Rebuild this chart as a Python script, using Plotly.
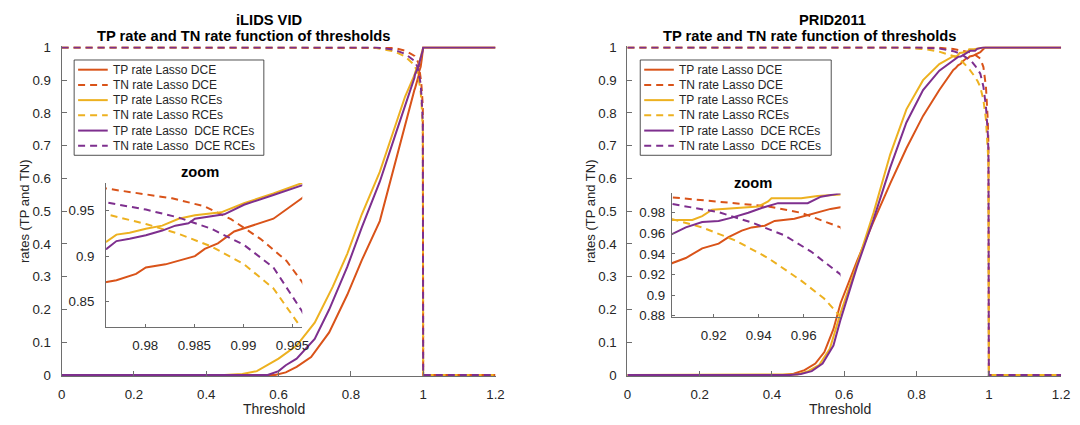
import plotly.graph_objects as go

W, H = 1080, 425

# ---------------- data ----------------
series_names = ["TP rate Lasso DCE", "TN rate Lasso DCE",
                "TP rate Lasso RCEs", "TN rate Lasso RCEs",
                "TP rate Lasso  DCE RCEs", "TN rate Lasso  DCE RCEs"]
series_colors = ["#D95319", "#D95319", "#EDB120", "#EDB120", "#7E2F8E", "#7E2F8E"]
series_dash = ["solid", "dash", "solid", "dash", "solid", "dash"]

# iLIDS VID
ilids_tp_dce_x = [0, 0.59, 0.62, 0.65, 0.69, 0.74, 0.79, 0.83, 0.88, 0.925, 0.95,
                  0.97606, 0.97706, 0.97906, 0.98006, 0.98206, 0.98373, 0.98506, 0.98606,
                  0.9874, 0.98906, 0.9904, 0.99173, 0.99306, 0.99596, 0.9985, 1.0, 1.2]
ilids_tp_dce_y = [0, 0, 0.008, 0.025, 0.055, 0.13, 0.245, 0.35, 0.47, 0.66, 0.77,
                  0.8718, 0.8736, 0.8806, 0.8876, 0.891, 0.8964, 0.90, 0.908,
                  0.914, 0.927, 0.9317, 0.937, 0.941, 0.9634, 0.985, 1.0, 1.0]
ilids_tn_dce_x = [0, 0.88, 0.92, 0.95, 0.97606, 0.9794, 0.98273, 0.98606, 0.98873, 0.99173,
                  0.9944, 0.99596, 0.999, 1.0, 1.2]
ilids_tn_dce_y = [1, 1, 0.998, 0.99, 0.974, 0.9687, 0.9634, 0.9545, 0.9405, 0.919,
                  0.8947, 0.872, 0.82, 0, 0]
ilids_tp_rce_x = [0, 0.45, 0.5, 0.54, 0.6, 0.65, 0.7, 0.75, 0.79, 0.83, 0.88, 0.925, 0.95,
                  0.97606, 0.97706, 0.9784, 0.98006, 0.98173, 0.9834, 0.98506, 0.98773,
                  0.99006, 0.99306, 0.99596, 0.9985, 1.0, 1.2]
ilids_tp_rce_y = [0, 0, 0.003, 0.012, 0.05, 0.09, 0.16, 0.27, 0.37, 0.49, 0.62, 0.77, 0.85,
                  0.9159, 0.9236, 0.9257, 0.930, 0.9334, 0.941, 0.9447, 0.948,
                  0.958, 0.9687, 0.98, 0.993, 1.0, 1.0]
ilids_tn_rce_x = [0, 0.86, 0.92, 0.95, 0.97606, 0.98006, 0.9834, 0.98673, 0.99006, 0.99306,
                  0.99573, 0.999, 1.0, 1.2]
ilids_tn_rce_y = [1, 1, 0.988, 0.972, 0.9458, 0.9352, 0.9245, 0.9106, 0.8911, 0.8647,
                  0.824, 0.75, 0, 0]
ilids_tp_both_x = [0, 0.57, 0.6, 0.62, 0.65, 0.7, 0.74, 0.79, 0.83, 0.88, 0.925, 0.95,
                   0.97606, 0.97706, 0.9784, 0.98006, 0.98173, 0.98306, 0.9844, 0.98506,
                   0.98806, 0.99006, 0.99306, 0.99596, 0.9985, 1.0, 1.2]
ilids_tp_both_y = [0, 0, 0.012, 0.03, 0.05, 0.11, 0.2, 0.33, 0.45, 0.59, 0.74, 0.82,
                   0.908, 0.9165, 0.919, 0.9228, 0.928, 0.9334, 0.936, 0.941,
                   0.9458, 0.9563, 0.967, 0.9775, 0.99, 1.0, 1.0]
ilids_tn_both_x = [0, 0.87, 0.92, 0.95, 0.97606, 0.98006, 0.9834, 0.98673, 0.99006, 0.99306,
                   0.99596, 0.999, 1.0, 1.2]
ilids_tn_both_y = [1, 1, 0.993, 0.98, 0.9588, 0.951, 0.9423, 0.930, 0.9123, 0.8876,
                   0.840, 0.77, 0, 0]

# PRID2011
prid_tp_dce_x = [0, 0.43, 0.46, 0.49, 0.52, 0.545, 0.57, 0.59, 0.635, 0.68, 0.727, 0.772, 0.818, 0.863,
                 0.9017, 0.9076, 0.9149, 0.9222, 0.9266, 0.9325, 0.9369, 0.9427, 0.9471, 0.9559,
                 0.9633, 0.972, 0.9764, 0.985, 0.99, 1.2]
prid_tp_dce_y = [0, 0, 0.004, 0.015, 0.035, 0.07, 0.14, 0.22, 0.347, 0.466, 0.584, 0.692, 0.791, 0.87,
                 0.9312, 0.936, 0.9454, 0.950, 0.9564, 0.9627, 0.9658, 0.9674, 0.9721, 0.9743,
                 0.9784, 0.9838, 0.9853, 0.995, 1.0, 1.0]
prid_tn_dce_x = [0, 0.85, 0.9017, 0.9222, 0.9442, 0.9589, 0.9764, 0.985, 0.992, 0.997, 0.999, 1.0, 1.2]
prid_tn_dce_y = [1, 1, 0.995, 0.991, 0.9862, 0.980, 0.9658, 0.94, 0.88, 0.78, 0.70, 0, 0]
prid_tp_rce_x = [0, 0.44, 0.47, 0.5, 0.53, 0.56, 0.59, 0.635, 0.681, 0.727, 0.772, 0.818, 0.863,
                 0.9017, 0.9105, 0.9149, 0.9193, 0.9295, 0.9398, 0.9442, 0.9457, 0.9589, 0.9662,
                 0.9764, 0.985, 1.2]
prid_tp_rce_y = [0, 0, 0.002, 0.012, 0.03, 0.08, 0.19, 0.337, 0.495, 0.673, 0.811, 0.90, 0.949,
                 0.973, 0.973, 0.9768, 0.983, 0.9847, 0.9862, 0.991, 0.9941, 0.9941, 0.9963,
                 0.9979, 1.0, 1.0]
prid_tn_rce_x = [0, 0.75, 0.82, 0.86, 0.9017, 0.9149, 0.9295, 0.9442, 0.9589, 0.9691, 0.9764,
                 0.985, 0.992, 0.997, 0.999, 1.0, 1.2]
prid_tn_rce_y = [1, 1, 0.995, 0.988, 0.9737, 0.9658, 0.9532, 0.936, 0.914, 0.8966, 0.879,
                 0.84, 0.78, 0.70, 0.65, 0, 0]
prid_tp_both_x = [0, 0.45, 0.48, 0.51, 0.54, 0.57, 0.59, 0.635, 0.681, 0.727, 0.772, 0.818, 0.863,
                  0.9017, 0.9076, 0.9149, 0.9222, 0.9281, 0.9354, 0.9413, 0.9486, 0.9618, 0.9677,
                  0.9764, 0.985, 1.2]
prid_tp_both_y = [0, 0, 0.003, 0.012, 0.035, 0.09, 0.17, 0.33, 0.475, 0.633, 0.771, 0.87, 0.929,
                  0.9595, 0.9658, 0.9711, 0.9721, 0.9753, 0.980, 0.9847, 0.9894, 0.9894, 0.9957,
                  0.9989, 1.0, 1.0]
prid_tn_both_x = [0, 0.8, 0.86, 0.9017, 0.9222, 0.9369, 0.9515, 0.9633, 0.9764, 0.985, 0.992,
                  0.997, 0.999, 1.0, 1.2]
prid_tn_both_y = [1, 1, 0.997, 0.9885, 0.9806, 0.9706, 0.958, 0.9423, 0.920, 0.88, 0.82,
                  0.74, 0.68, 0, 0]

ilids_series = [(ilids_tp_dce_x, ilids_tp_dce_y), (ilids_tn_dce_x, ilids_tn_dce_y),
                (ilids_tp_rce_x, ilids_tp_rce_y), (ilids_tn_rce_x, ilids_tn_rce_y),
                (ilids_tp_both_x, ilids_tp_both_y), (ilids_tn_both_x, ilids_tn_both_y)]
prid_series = [(prid_tp_dce_x, prid_tp_dce_y), (prid_tn_dce_x, prid_tn_dce_y),
               (prid_tp_rce_x, prid_tp_rce_y), (prid_tn_rce_x, prid_tn_rce_y),
               (prid_tp_both_x, prid_tp_both_y), (prid_tn_both_x, prid_tn_both_y)]

main_xticks = [0, 0.2, 0.4, 0.6, 0.8, 1, 1.2]
main_xticklabels = ["0", "0.2", "0.4", "0.6", "0.8", "1", "1.2"]
main_yticks = [0, 0.1, 0.2, 0.3, 0.4, 0.5, 0.6, 0.7, 0.8, 0.9, 1]
main_yticklabels = ["0", "0.1", "0.2", "0.3", "0.4", "0.5", "0.6", "0.7", "0.8", "0.9", "1"]
ilids_zoom_xticks = [0.98, 0.985, 0.99, 0.995]
ilids_zoom_xticklabels = ["0.98", "0.985", "0.99", "0.995"]
ilids_zoom_yticks = [0.85, 0.9, 0.95]
ilids_zoom_yticklabels = ["0.85", "0.9", "0.95"]
prid_zoom_xticks = [0.92, 0.94, 0.96]
prid_zoom_xticklabels = ["0.92", "0.94", "0.96"]
prid_zoom_yticks = [0.88, 0.9, 0.92, 0.94, 0.96, 0.98]
prid_zoom_yticklabels = ["0.88", "0.9", "0.92", "0.94", "0.96", "0.98"]

# ---------------- style / layout ----------------
FONT = "Liberation Sans, Arial, Helvetica, sans-serif"
TXT = "#262626"
AXC = "#6e6e6e"
DASH = "7px,5px"
LW = 2
TICKSZ = 13.3


def px(x):
    return x / W


def py(y):
    return 1 - y / H


fig = go.Figure()


def add_series(series, xa, ya):
    for (sx, sy), col, d, nm in zip(series, series_colors, series_dash, series_names):
        fig.add_trace(go.Scatter(
            x=sx, y=sy, mode="lines", name=nm, showlegend=False, hoverinfo="skip",
            line=dict(color=col, width=LW, dash=(DASH if d == "dash" else "solid")),
            xaxis=xa, yaxis=ya))


add_series(ilids_series, "x", "y")
add_series(prid_series, "x2", "y2")
add_series(ilids_series, "x3", "y3")
add_series(prid_series, "x4", "y4")

# axis geometry (pixels)
main_left = [(58.3, 497.5), (631.0, 1070.0)]
main_y0_px, main_y1_px = 380.7, 42.7  # pixel of y=0, y=1
ypad = 0.003
ppu = (main_y0_px - main_y1_px)
main_dom_y = [py(main_y0_px + ypad * ppu), py(main_y1_px - ypad * ppu)]

base_axis = dict(showline=True, linecolor=AXC, linewidth=1, ticks="inside", tickcolor=AXC,
                 showgrid=False, zeroline=False, mirror=False,
                 tickfont=dict(family=FONT, size=TICKSZ, color=TXT))

lay = dict(
    width=W, height=H, margin=dict(l=0, r=0, t=0, b=0),
    paper_bgcolor="white", plot_bgcolor="rgba(0,0,0,0)", showlegend=False,
    font=dict(family=FONT, color=TXT),
)

for i, (xl, xr) in enumerate(main_left):
    sx = "" if i == 0 else "2"
    lay["xaxis" + sx] = dict(base_axis, domain=[px(xl), px(xr)], range=[0, 1.2],
                             tickvals=main_xticks, ticktext=main_xticklabels,
                             ticklen=5, anchor="y" + sx, ticklabelstandoff=6)
    lay["yaxis" + sx] = dict(base_axis, domain=main_dom_y, range=[-ypad, 1 + ypad],
                             tickvals=main_yticks, ticktext=main_yticklabels,
                             ticklen=5, anchor="x" + sx, ticklabelstandoff=7)

# insets
ilids_inset = dict(l=103.3, r=301.9, b=331.5, t=182.7)
prid_inset = dict(l=676.0, r=846.7, b=320.7, t=193.3)
lay["xaxis3"] = dict(base_axis, domain=[px(ilids_inset["l"]), px(ilids_inset["r"])],
                     range=[0.976, 0.996], tickvals=ilids_zoom_xticks,
                     ticktext=ilids_zoom_xticklabels, ticklen=3, anchor="y3", ticklabelstandoff=6)
lay["yaxis3"] = dict(base_axis, domain=[py(ilids_inset["b"]), py(ilids_inset["t"])],
                     range=[0.822, 0.98], tickvals=ilids_zoom_yticks,
                     ticktext=ilids_zoom_yticklabels, ticklen=3, anchor="x3", ticklabelstandoff=8)
lay["xaxis4"] = dict(base_axis, domain=[px(prid_inset["l"]), px(prid_inset["r"])],
                     range=[0.9014, 0.9764], tickvals=prid_zoom_xticks,
                     ticktext=prid_zoom_xticklabels, ticklen=3, anchor="y4", ticklabelstandoff=6)
lay["yaxis4"] = dict(base_axis, domain=[py(prid_inset["b"]), py(prid_inset["t"])],
                     range=[0.8787, 0.9989], tickvals=prid_zoom_yticks,
                     ticktext=prid_zoom_yticklabels, ticklen=3, anchor="x4", ticklabelstandoff=3)

fig.update_layout(**lay)

ann = []
tfont = dict(family=FONT, size=14.7, color="black")
# titles
for txt, cx, cy in [("<b>iLIDS VID</b>", 268, 14), ("<b>TP rate and TN rate function of thresholds</b>", 243, 31),
                    ("<b>PRID2011</b>", 839, 14), ("<b>TP rate and TN rate function of thresholds</b>", 816, 31),
                    ("<b>zoom</b>", 198.5, 171.7), ("<b>zoom</b>", 758.5, 182.7)]:
    ann.append(dict(text=txt, x=px(cx), y=py(cy), xref="paper", yref="paper", showarrow=False,
                    xanchor="center", yanchor="middle", font=tfont))
# axis titles
xfont = dict(family=FONT, size=14, color=TXT)
yfont = dict(family=FONT, size=13, color=TXT)
for cx in [273, 846]:
    ann.append(dict(text="Threshold", x=px(cx), y=py(416), xref="paper", yref="paper", showarrow=False,
                    xanchor="center", yanchor="middle", font=xfont))
for cx in [20, 593]:
    ann.append(dict(text="rates (TP and TN)", x=px(cx), y=py(211.7), xref="paper", yref="paper",
                    showarrow=False, textangle=-90, xanchor="center", yanchor="middle", font=yfont))

# legends (one box per panel)
shapes = []
lfont = dict(family=FONT, size=12, color=TXT)
for bx0, bx1 in [(71, 263), (644, 837.3)]:
    by0, by1 = 55.7, 154
    shapes.append(dict(type="rect", xref="paper", yref="paper", x0=px(bx0), x1=px(bx1),
                       y0=py(by1), y1=py(by0), line=dict(color="#262626", width=0.8),
                       fillcolor="white", layer="above"))
    for i, (nm, col, d) in enumerate(zip(series_names, series_colors, series_dash)):
        ry = 65.7 + i * 15.7
        shapes.append(dict(type="line", xref="paper", yref="paper", x0=px(bx0 + 4), x1=px(bx0 + 34),
                           y0=py(ry), y1=py(ry), layer="above",
                           line=dict(color=col, width=LW, dash=(DASH if d == "dash" else "solid"))))
        ann.append(dict(text=nm.replace("  ", " \u00a0"), x=px(bx0 + 37.3), y=py(ry), xref="paper", yref="paper",
                        showarrow=False, xanchor="left", yanchor="middle", font=lfont))

fig.update_layout(annotations=ann, shapes=shapes)
fig.write_html("out.html")
